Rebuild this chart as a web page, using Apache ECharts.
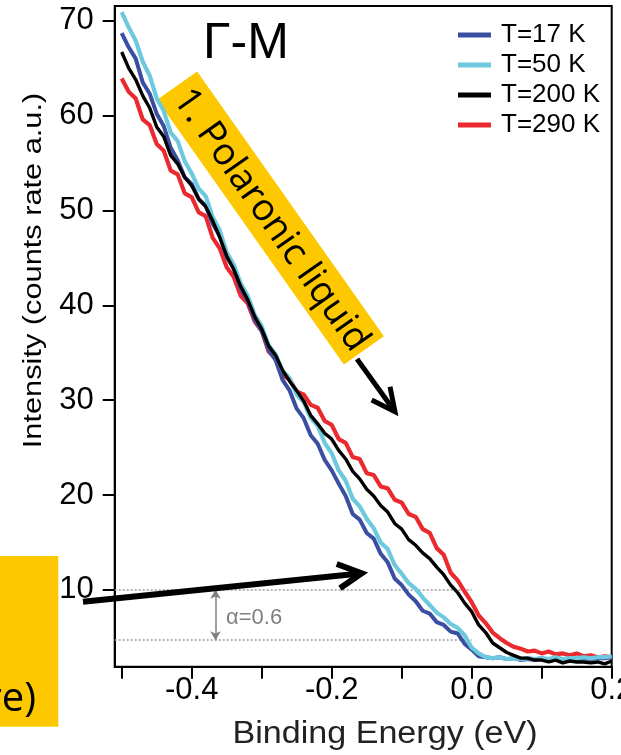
<!DOCTYPE html>
<html>
<head>
<meta charset="utf-8">
<script src="https://cdn.jsdelivr.net/npm/echarts@6/dist/echarts.min.js"></script>
<style>
html,body{margin:0;padding:0;background:#fff;}
#chart{width:621px;height:755px;}
</style>
</head>
<body>
<div id="chart"></div>
<script>
// Binding energy grid (eV)
const energy = [-0.50,-0.49,-0.48,-0.47,-0.46,-0.45,-0.44,-0.43,-0.42,-0.41,
  -0.40,-0.39,-0.38,-0.37,-0.36,-0.35,-0.34,-0.33,-0.32,-0.31,
  -0.30,-0.29,-0.28,-0.27,-0.26,-0.25,-0.24,-0.23,-0.22,-0.21,
  -0.20,-0.19,-0.18,-0.17,-0.16,-0.15,-0.14,-0.13,-0.12,-0.11,
  -0.10,-0.09,-0.08,-0.07,-0.06,-0.05,-0.04,-0.03,-0.02,-0.01,
  0.00,0.01,0.02,0.03,0.04,0.05,0.06,0.07,0.08,0.09,
  0.10,0.11,0.12,0.13,0.14,0.15,0.16,0.17,0.18,0.19,0.20];

const t17 = [68.7,67.2,66.0,63.5,62.3,60.2,58.9,56.6,55.3,53.5,
  52.8,51.2,50.5,48.6,47.3,45.1,43.9,41.8,40.5,38.5,
  37.3,35.3,34.2,32.1,31.0,29.1,28.1,26.3,25.4,23.7,
  22.6,21.2,19.9,18.0,17.4,16.0,15.4,13.8,12.9,11.2,
  10.5,9.5,8.8,7.8,7.5,6.6,6.3,5.6,5.4,4.3,
  3.7,3.0,2.9,2.8,2.9,2.7,2.8,2.6,2.7,2.6,
  2.8,2.6,2.7,2.6,2.8,2.7,2.8,2.7,2.8,2.8,2.9];

const t50 = [70.9,69.3,67.9,65.7,64.2,61.8,60.5,58.2,57.3,55.2,
  53.9,52.3,51.5,49.3,47.9,45.6,44.3,42.3,41.0,39.0,
  37.8,35.8,34.8,33.1,32.3,30.6,29.8,28.1,27.3,25.5,
  24.4,22.6,21.5,19.6,18.8,17.5,16.5,15.0,14.3,12.6,
  11.7,10.7,10.1,9.2,8.4,7.6,7.1,6.4,6.0,5.2,
  3.9,3.3,2.9,2.8,2.9,2.7,2.8,2.7,2.8,2.7,
  2.8,2.7,2.9,2.7,2.8,2.8,2.9,2.8,2.9,2.9,3.0];

const t200 = [66.7,65.0,63.8,62.1,60.8,58.8,57.8,55.8,54.9,53.5,
  52.6,51.2,50.4,48.9,47.2,45.2,43.8,42.0,40.6,38.8,
  37.5,35.7,34.7,33.1,32.0,31.0,29.9,28.4,27.5,26.5,
  25.9,24.7,23.8,22.5,21.7,20.6,19.9,18.9,18.2,17.0,
  16.4,15.3,14.7,13.9,13.3,12.4,11.6,10.5,9.7,8.6,
  7.7,6.3,5.5,4.4,3.9,3.4,3.1,2.8,2.8,2.6,
  2.6,2.4,2.6,2.3,2.5,2.4,2.4,2.3,2.4,2.2,2.5];

const t290 = [63.9,62.5,61.8,59.6,59.0,57.0,56.3,54.2,53.8,51.8,
  51.4,49.8,49.4,47.1,46.0,44.0,43.0,41.0,40.2,38.3,
  37.3,35.1,34.4,32.7,32.1,30.9,30.6,29.5,29.2,27.8,
  27.4,25.9,25.5,24.0,23.8,22.3,22.1,20.9,20.7,19.5,
  19.2,18.0,17.7,16.4,16.0,14.4,13.7,11.8,11.0,9.8,
  8.7,7.3,6.5,5.5,4.9,4.4,4.0,3.8,3.5,3.6,
  3.3,3.5,3.2,3.3,3.1,3.3,3.0,3.1,2.9,3.0,2.9];

const seriesNames = ['T=17 K','T=50 K','T=200 K','T=290 K'];
const seriesColors = ['#3a4ea2','#6dc9de','#000000','#ea2a2e'];

const xTicks = [-0.5,-0.4,-0.3,-0.2,-0.1,0,0.1,0.2];
const xLabels = [-0.4,-0.2,0,0.2];
const yTicks = [10,20,30,40,50,60,70];

// guide lines for the alpha annotation
const guideLevels = [10, 4.7];   // intensity levels
const guideEnd = 0.0;             // lines end at E = 0
const alphaPos = -0.366;          // x of the double arrow

const FONT = '"Liberation Sans", Arial, sans-serif';

function pairs(vals){ return energy.map((e,i)=>[e, vals[i]]); }

const chart = echarts.init(document.getElementById('chart'), null, {renderer:'canvas'});

const option = {
  animation: false,
  backgroundColor: '#fff',
  grid: {
    left: 114.7, right: 9.3, top: 6, bottom: 88.3,
    show: true, borderColor: '#000', borderWidth: 2,
    outerBoundsMode: 'none', containLabel: false
  },
  legend: {
    orient: 'vertical',
    left: 453, top: 15,
    icon: 'rect',
    itemWidth: 33, itemHeight: 5, itemGap: 0,
    selectedMode: false,
    data: seriesNames,
    textStyle: { fontFamily: FONT, fontSize: 26, color: '#000', lineHeight: 30, padding: [0,0,0,5] }
  },
  xAxis: {
    type: 'value', min: -0.51, max: 0.2,
    axisLine: { show: true, onZero: false, lineStyle: { color: '#000', width: 2 } },
    axisTick: { show: true, length: 12, lineStyle: { color: '#000', width: 2 }, customValues: xTicks },
    axisLabel: { customValues: xLabels, fontFamily: FONT, fontSize: 31, color: '#000', margin: 8,
      formatter: v => v.toFixed(1) },
    splitLine: { show: false }
  },
  yAxis: {
    type: 'value', min: 1.9, max: 71.55,
    axisLine: { show: true, onZero: false, lineStyle: { color: '#000', width: 2 } },
    axisTick: { show: true, length: 12, lineStyle: { color: '#000', width: 2 }, customValues: yTicks },
    axisLabel: { customValues: yTicks, fontFamily: FONT, fontSize: 31, color: '#000', margin: 21 },
    splitLine: { show: false }
  },
  series: [
    {
      name: seriesNames[3], type: 'line', data: pairs(t290), showSymbol: false,
      lineStyle: { color: seriesColors[3], width: 4.2 }, itemStyle: { color: seriesColors[3] },
      z: 2,
      markLine: {
        silent: true, symbol: 'none', z: 1,
        label: { show: false },
        lineStyle: { color: '#9a9a9a', width: 1.5, type: [2,2] },
        data: guideLevels.map(v => [{ coord: [-0.51, v] }, { coord: [guideEnd, v] }])
      }
    },
    {
      name: seriesNames[0], type: 'line', data: pairs(t17), showSymbol: false,
      lineStyle: { color: seriesColors[0], width: 4 }, itemStyle: { color: seriesColors[0] },
      z: 3,
      markLine: {
        silent: true, symbol: ['arrow','arrow'], symbolSize: [8,9],
        label: { show: false },
        lineStyle: { color: '#808080', width: 1.5, type: 'solid' },
        data: [[{ coord: [alphaPos, guideLevels[0]] }, { coord: [alphaPos, guideLevels[1]] }]]
      }
    },
    {
      name: seriesNames[1], type: 'line', data: pairs(t50), showSymbol: false,
      lineStyle: { color: seriesColors[1], width: 4.2 }, itemStyle: { color: seriesColors[1] },
      z: 4
    },
    {
      name: seriesNames[2], type: 'line', data: pairs(t200), showSymbol: false,
      lineStyle: { color: seriesColors[2], width: 3.4 }, itemStyle: { color: seriesColors[2] },
      z: 5
    }
  ],
  graphic: [
    // y axis title
    { type: 'text', x: 34, y: 270.5, rotation: Math.PI/2, scaleX: 1.16, z: 10,
      style: { text: 'Intensity (counts rate a.u.)', fontFamily: FONT, fontSize: 26.5, fill: '#000',
        align: 'center', verticalAlign: 'middle' } },
    // x axis title
    { type: 'text', x: 385, y: 734, scaleX: 1.1, z: 10,
      style: { text: 'Binding Energy (eV)', fontFamily: FONT, fontSize: 31, fill: '#222',
        align: 'center', verticalAlign: 'middle' } },
    // Gamma-M
    { type: 'text', x: 246, y: 44, z: 10,
      style: { text: 'Γ-M', fontFamily: FONT, fontSize: 50, fill: '#000',
        align: 'center', verticalAlign: 'middle' } },
    // alpha label
    { type: 'text', x: 226, y: 618, z: 10,
      style: { text: 'α=0.6', fontFamily: FONT, fontSize: 22, fill: '#808080',
        align: 'left', verticalAlign: 'middle' } },
    // rotated yellow box
    { type: 'group', x: 270.5, y: 218, rotation: -54.8 * Math.PI / 180, z: 20,
      children: [
        { type: 'rect', shape: { x: -162, y: -24.5, width: 324, height: 49 },
          style: { fill: '#fdc800' } },
        { type: 'text', x: 2, y: 1,
          style: { text: '1. Polaronic liquid', fontFamily: '"Open Sans", sans-serif', fontSize: 37.5,
            fill: '#000', align: 'center', verticalAlign: 'middle' } }
      ] },
    // arrow from box
    { type: 'polyline', z: 21, shape: { points: [[357, 359], [395, 411.7]] },
      style: { stroke: '#000', lineWidth: 5, fill: null } },
    { type: 'polyline', z: 21, shape: { points: [[371.7, 400], [395, 411.7], [390, 386.7]] },
      style: { stroke: '#000', lineWidth: 5, fill: null, lineJoin: 'miter' } },
    // left yellow box
    { type: 'rect', z: 20, shape: { x: 0, y: 556, width: 58.3, height: 170.7 },
      style: { fill: '#fdc800' } },
    { type: 'text', x: 36, y: 700, z: 21,
      style: { text: 're)', fontFamily: '"Open Sans", sans-serif', fontSize: 40, fill: '#000',
        align: 'right', verticalAlign: 'middle' } },
    // bottom arrow
    { type: 'polyline', z: 21, shape: { points: [[83, 601.7], [360, 573.5]] },
      style: { stroke: '#000', lineWidth: 6, fill: null } },
    { type: 'polyline', z: 21, shape: { points: [[336.7, 564], [361.7, 573.3], [340, 588.3]] },
      style: { stroke: '#000', lineWidth: 6, fill: null, lineJoin: 'miter' } }
  ]
};
chart.setOption(option);
</script>
</body>
</html>
